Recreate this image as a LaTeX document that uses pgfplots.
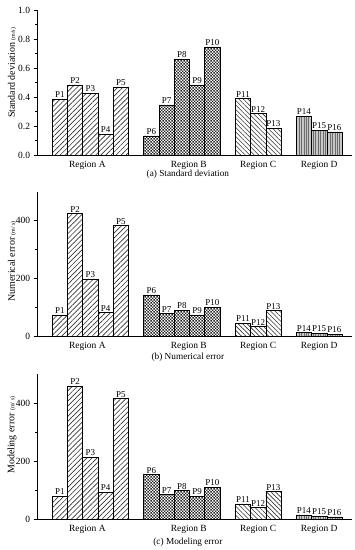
\documentclass[border=0pt]{standalone}
\usepackage{fontspec}
\setmainfont{Liberation Serif}
\usepackage{pgfplots}
\usepackage{pgfplotstable}
\pgfplotsset{compat=1.18}
\usetikzlibrary{patterns,patterns.meta}

\tikzdeclarepattern{name=checker, type=uncolored,
  bottom left={(0pt,0pt)}, top right={(3pt,3pt)}, tile size={(3pt,3pt)},
  code={\fill (0pt,0pt) rectangle (1.5pt,1.5pt); \fill (1.5pt,1.5pt) rectangle (3pt,3pt);}}

% Standard deviation
\pgfplotstableread{
x y lab
1 0.386 P1
2 0.483 P2
3 0.425 P3
4 0.143 P4
5 0.469 P5
}\sdA
\pgfplotstableread{
x y lab
7 0.131 P6
8 0.345 P7
9 0.662 P8
10 0.483 P9
11 0.745 P10
}\sdB
\pgfplotstableread{
x y lab
13 0.389 P11
14 0.287 P12
15 0.186 P13
}\sdC
\pgfplotstableread{
x y lab
17 0.267 P14
18 0.170 P15
19 0.159 P16
}\sdD
% Numerical error
\pgfplotstableread{
x y lab
1 75 P1
2 425 P2
3 199 P3
4 83 P4
5 383 P5
}\neA
\pgfplotstableread{
x y lab
7 144 P6
8 80 P7
9 92 P8
10 75 P9
11 102 P10
}\neB
\pgfplotstableread{
x y lab
13 47 P11
14 35 P12
15 90 P13
}\neC
\pgfplotstableread{
x y lab
17 15 P14
18 12 P15
19 9 P16
}\neD
% Modeling error
\pgfplotstableread{
x y lab
1 80 P1
2 459 P2
3 214 P3
4 94 P4
5 416 P5
}\meA
\pgfplotstableread{
x y lab
7 154 P6
8 85 P7
9 99 P8
10 80 P9
11 111 P10
}\meB
\pgfplotstableread{
x y lab
13 53 P11
14 41 P12
15 96 P13
}\meC
\pgfplotstableread{
x y lab
17 15 P14
18 11 P15
19 8 P16
}\meD

\pgfplotsset{
  panel/.style={
    width=315bp, height=145bp, scale only axis,
    xmin=-0.5, xmax=20.15, ymin=0,
    axis lines*=left,
    axis line style={line width=0.8pt},
    tick align=outside,
    major tick length=3.5pt, minor tick length=2pt,
    every tick/.style={black, line width=0.6pt},
    xtick={2.8,9.45,14,18},
    xticklabels={Region A,Region B,Region C,Region D},
    x tick style={draw=none},
    xticklabel style={font=\fontsize{9.5}{10}\selectfont, yshift=1pt},
    yticklabel style={font=\fontsize{9.5}{10}\selectfont},
    /pgf/number format/assume math mode=true,
    ylabel style={font=\fontsize{10}{11}\selectfont, at={(axis description cs:-0.079,0.55)}, anchor=center},
    ybar, bar width=1, bar shift=0pt,
    every axis plot/.append style={draw=black, line width=0.6pt, bar shift=0pt},
    nodes near coords,
    point meta=explicit symbolic,
    nodes near coords style={font=\fontsize{9}{9}\selectfont, inner sep=1pt, anchor=south},
  },
  grA/.style={pattern={Lines[angle=45,distance=3.6pt,line width=0.65pt]}, pattern color=black!80},
  grB/.style={pattern=checker, pattern color=black!85},
  grC/.style={pattern={Lines[angle=-45,distance=3.2pt,line width=0.6pt]}, pattern color=black!80},
  grD/.style={fill=gray!45, postaction={pattern={Lines[angle=90,distance=2.4pt,line width=0.3pt]}, pattern color=gray!85!black}},
}

\begin{document}
\begin{tikzpicture}
\useasboundingbox (0,0) rectangle (355bp,550bp);

\begin{axis}[panel, at={(37bp,395bp)}, anchor=south west,
  ymax=1.0, ytick={0,0.2,0.4,0.6,0.8,1.0}, minor y tick num=1,
  yticklabel style={/pgf/number format/.cd, fixed, fixed zerofill, precision=1},
  ylabel={Standard deviation {\fontsize{6}{6}\selectfont (m/s)}},
  ylabel style={at={(axis description cs:-0.079,0.566)}},
  xlabel={(a) Standard deviation},
  xlabel style={font=\fontsize{9.3}{10}\selectfont, at={(axis description cs:0.479,-0.13)}, anchor=center},
]
\addplot[grA] table[x=x,y=y,meta=lab] {\sdA};
\addplot[grB] table[x=x,y=y,meta=lab] {\sdB};
\addplot[grC] table[x=x,y=y,meta=lab] {\sdC};
\addplot[grD] table[x=x,y=y,meta=lab] {\sdD};
\end{axis}

\begin{axis}[panel, at={(37bp,213.3bp)}, anchor=south west,
  ymax=500, ytick={0,200,400}, minor ytick={100,300},
  ylabel={Numerical error {\fontsize{6}{6}\selectfont (m/ s)}},
  ylabel style={at={(axis description cs:-0.079,0.52)}},
  xlabel={(b) Numerical error},
  xlabel style={font=\fontsize{9.3}{10}\selectfont, at={(axis description cs:0.479,-0.14)}, anchor=center},
]
\addplot[grA] table[x=x,y=y,meta=lab] {\neA};
\addplot[grB] table[x=x,y=y,meta=lab] {\neB};
\addplot[grC] table[x=x,y=y,meta=lab] {\neC};
\addplot[grD] table[x=x,y=y,meta=lab] {\neD};
\end{axis}

\begin{axis}[panel, at={(37bp,30.7bp)}, anchor=south west,
  ymax=500, ytick={0,200,400}, minor ytick={100,300},
  ylabel={Modeling error {\fontsize{6}{6}\selectfont (m/ s)}},
  ylabel style={at={(axis description cs:-0.079,0.58)}},
  xlabel={(c) Modeling error},
  xlabel style={font=\fontsize{9.3}{10}\selectfont, at={(axis description cs:0.479,-0.16)}, anchor=center},
]
\addplot[grA] table[x=x,y=y,meta=lab] {\meA};
\addplot[grB] table[x=x,y=y,meta=lab] {\meB};
\addplot[grC] table[x=x,y=y,meta=lab] {\meC};
\addplot[grD] table[x=x,y=y,meta=lab] {\meD};
\end{axis}
\end{tikzpicture}
\end{document}
